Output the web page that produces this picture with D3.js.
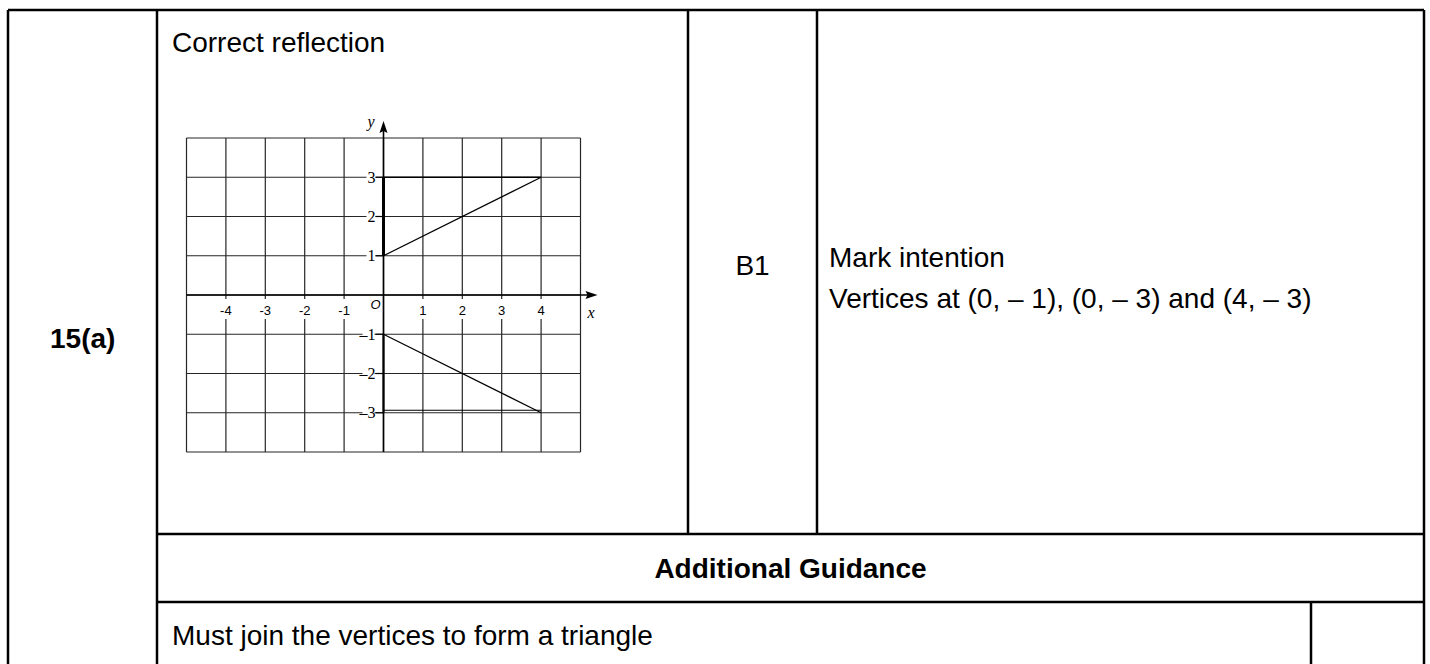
<!DOCTYPE html>
<html>
<head>
<meta charset="utf-8">
<script src="https://cdn.jsdelivr.net/npm/d3@7"></script>
<style>
html,body{margin:0;padding:0;background:#fff;}
svg{display:block;}
</style>
</head>
<body>
<svg id="c" width="1430" height="664"></svg>
<script>
// ---- data ----
const xTicks = [-4, -3, -2, -1, 1, 2, 3, 4];
const yTicks = [-3, -2, -1, 1, 2, 3];
const xDomain = [-5, 5];
const yDomain = [-4, 4];
const originalShape = [[0, 1], [0, 3], [4, 3]];
const reflectedShape = [[0, -1], [0, -3], [4, -3]];
const questionLabel = "15(a)";
const answerTitle = "Correct reflection";
const marksLabel = "B1";
const guidanceLines = ["Mark intention", "Vertices at (0, \u2013 1), (0, \u2013 3) and (4, \u2013 3)"];
const additionalTitle = "Additional Guidance";
const additionalNote = "Must join the vertices to form a triangle";

const svg = d3.select("#c");
const SANS = "'Liberation Sans', Arial, Helvetica, sans-serif";
const SERIF = "'Liberation Serif', 'Times New Roman', serif";
const FS = 28;

// ---- table frame ----
const T = {l: 8, r: 1424, t: 10, b: 700, c1: 157, c2: 688, c3: 817, h1: 534, h2: 602, c4: 1311};
const border = svg.append("g").attr("stroke", "#000").attr("stroke-width", 2.5).attr("fill", "none");
const segs = [
  [T.l, T.t, T.r, T.t],
  [T.l, T.t, T.l, T.b],
  [T.r, T.t, T.r, T.b],
  [T.c1, T.t, T.c1, T.b],
  [T.c2, T.t, T.c2, T.h1],
  [T.c3, T.t, T.c3, T.h1],
  [T.c1, T.h1, T.r, T.h1],
  [T.c1, T.h2, T.r, T.h2],
  [T.c4, T.h2, T.c4, T.b]
];
border.selectAll("line").data(segs).join("line")
  .attr("x1", d => d[0]).attr("y1", d => d[1]).attr("x2", d => d[2]).attr("y2", d => d[3]);

// ---- table text ----
const txt = svg.append("g").attr("font-family", SANS).attr("fill", "#000");
txt.append("text").attr("x", 172).attr("y", 52).attr("font-size", FS).text(answerTitle);
txt.append("text").attr("x", 50).attr("y", 348).attr("font-size", FS).attr("font-weight", "bold").text(questionLabel);
txt.append("text").attr("x", (T.c2 + T.c3) / 2).attr("y", 275).attr("font-size", FS).attr("text-anchor", "middle").text(marksLabel);
txt.selectAll("text.g").data(guidanceLines).join("text").attr("class", "g")
  .attr("x", 829).attr("y", (d, i) => 267 + i * 41).attr("font-size", FS).text(d => d);
txt.append("text").attr("x", (T.c1 + T.r) / 2).attr("y", 578).attr("font-size", FS).attr("font-weight", "bold").attr("text-anchor", "middle").text(additionalTitle);
txt.append("text").attr("x", 172).attr("y", 645).attr("font-size", FS).text(additionalNote);

// ---- coordinate grid ----
const x = d3.scaleLinear().domain(xDomain).range([186.5, 580.5]);
const y = d3.scaleLinear().domain(yDomain).range([452, 138]);
const g = svg.append("g");

const xs = d3.range(xDomain[0], xDomain[1] + 1);
const ys = d3.range(yDomain[0], yDomain[1] + 1);
g.append("g").attr("stroke", "#262626").attr("stroke-width", 1.2)
  .selectAll("line.v").data(xs).join("line")
  .attr("x1", d => x(d)).attr("x2", d => x(d)).attr("y1", y(yDomain[1])).attr("y2", y(yDomain[0]));
g.append("g").attr("stroke", "#262626").attr("stroke-width", 1.2)
  .selectAll("line.h").data(ys).join("line")
  .attr("y1", d => y(d)).attr("y2", d => y(d)).attr("x1", x(xDomain[0])).attr("x2", x(xDomain[1]));

// white boxes behind x tick labels
g.append("g").attr("fill", "#fff").selectAll("rect").data(xTicks).join("rect")
  .attr("x", d => x(d) - 9).attr("y", y(0) + 4).attr("width", 18).attr("height", 20);
g.append("rect").attr("fill", "#fff").attr("x", x(0) - 15).attr("y", y(0) + 3).attr("width", 13).attr("height", 14);

// white boxes behind y tick labels
g.append("g").attr("fill", "#fff").selectAll("rect").data(yTicks).join("rect")
  .attr("x", d => d < 0 ? x(0) - 21 : x(0) - 17).attr("y", d => y(d) - 7).attr("width", d => d < 0 ? 12 : 9).attr("height", 14);

// axes
const ax = g.append("g").attr("stroke", "#000").attr("stroke-width", 1.6);
ax.append("line").attr("x1", x(xDomain[0])).attr("x2", x(xDomain[1]) + 10).attr("y1", y(0)).attr("y2", y(0));
ax.append("line").attr("x1", x(0)).attr("x2", x(0)).attr("y1", y(yDomain[0])).attr("y2", y(yDomain[1]) - 10);
// arrow heads
g.append("path").attr("fill", "#000")
  .attr("d", `M${x(xDomain[1]) + 17},${y(0)} L${x(xDomain[1]) + 5},${y(0) - 4} L${x(xDomain[1]) + 7},${y(0)} L${x(xDomain[1]) + 5},${y(0) + 4} Z`);
g.append("path").attr("fill", "#000")
  .attr("d", `M${x(0)},${y(yDomain[1]) - 17} L${x(0) - 4},${y(yDomain[1]) - 5} L${x(0)},${y(yDomain[1]) - 7} L${x(0) + 4},${y(yDomain[1]) - 5} Z`);

// y tick marks
g.append("g").attr("stroke", "#000").attr("stroke-width", 1.2)
  .selectAll("line").data(yTicks).join("line")
  .attr("x1", x(0) - 8).attr("x2", x(0)).attr("y1", d => y(d)).attr("y2", d => y(d));

// tick labels
g.append("g").attr("font-family", SANS).attr("font-size", 13).attr("text-anchor", "middle")
  .selectAll("text").data(xTicks).join("text")
  .attr("x", d => x(d)).attr("y", y(0) + 20).text(d => d < 0 ? "-" + Math.abs(d) : d);
g.append("g").attr("font-family", SERIF).attr("font-size", 16).attr("text-anchor", "end")
  .selectAll("text").data(yTicks).join("text")
  .attr("x", x(0) - 8).attr("y", d => y(d) + 5.5).text(d => d < 0 ? "\u2013" + Math.abs(d) : d);
g.append("text").attr("x", x(0) - 8).attr("y", y(0) + 14).attr("font-family", SANS).attr("font-style", "italic")
  .attr("font-size", 13).attr("text-anchor", "middle").text("O");
g.append("text").attr("x", x(0) - 16).attr("y", y(yDomain[1]) - 11).attr("font-family", SERIF).attr("font-style", "italic")
  .attr("font-size", 16).text("y");
g.append("text").attr("x", x(xDomain[1]) + 7).attr("y", y(0) + 23).attr("font-family", SERIF).attr("font-style", "italic")
  .attr("font-size", 16).text("x");

// shapes
const line = d3.line().x(d => x(d[0])).y(d => y(d[1]));
const shapes = g.append("g").attr("fill", "none").attr("stroke", "#000");
// original: slanted edge + bold vertical edge + top edge
shapes.append("path").attr("stroke-width", 1.2).attr("d", line([originalShape[0], originalShape[2]]));
shapes.append("path").attr("stroke-width", 3).attr("d", line([originalShape[0], originalShape[1]]));
shapes.append("path").attr("stroke-width", 1.6).attr("d", line([originalShape[1], originalShape[2]]));
// reflected
shapes.append("path").attr("stroke-width", 1.2).attr("d", line([reflectedShape[0], reflectedShape[2]]));
shapes.append("path").attr("stroke-width", 2).attr("d", line([reflectedShape[0], reflectedShape[1]]));
shapes.append("path").attr("stroke-width", 1.2).attr("transform", "translate(0,-2.5)").attr("d", line([reflectedShape[1], reflectedShape[2]]));
</script>
</body>
</html>
